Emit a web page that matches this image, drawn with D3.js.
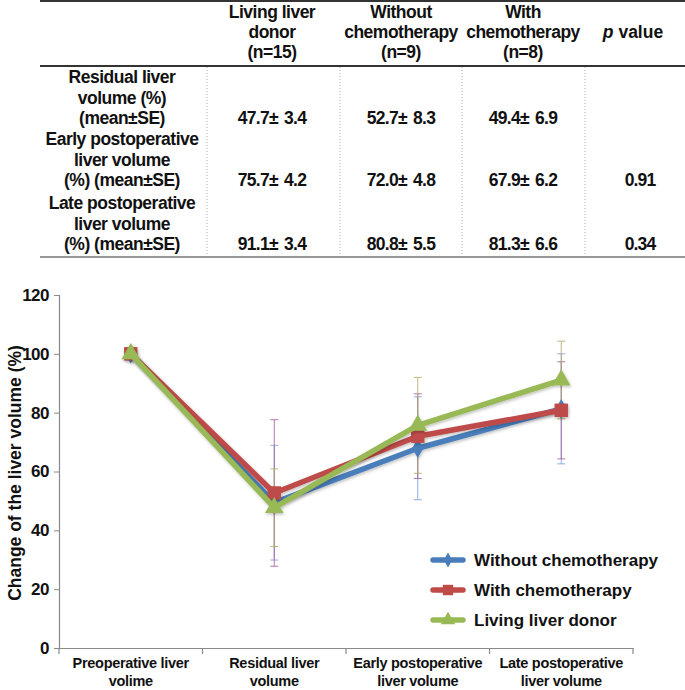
<!DOCTYPE html>
<html><head><meta charset="utf-8">
<script src="https://cdn.jsdelivr.net/npm/d3@7"></script>
<style>
body{margin:0;background:#fff;}
svg{font-family:"Liberation Sans",Arial,Helvetica,sans-serif;font-weight:bold;}
</style></head>
<body><svg id="c" width="685" height="690"></svg>
<script>
// ---- table data ----
const tableHeaders = [["Living liver","donor","(n=15)"],["Without","chemotherapy","(n=9)"],["With","chemotherapy","(n=8)"]];
const tableRowLabels = [["Residual liver","volume (%)","(mean±SE)"],["Early postoperative","liver volume","(%) (mean±SE)"],["Late postoperative","liver volume","(%) (mean±SE)"]];
const tableValues = [["47.7± 3.4","52.7± 8.3","49.4± 6.9"],["75.7± 4.2","72.0± 4.8","67.9± 6.2"],["91.1± 3.4","80.8± 5.5","81.3± 6.6"]];
const tablePValues = ["","0.91","0.34"];

// ---- chart data ----
const categories = [["Preoperative liver","volime"],["Residual liver","volume"],["Early postoperative","liver volume"],["Late postoperative","liver volume"]];
const seriesNames = ["Without chemotherapy","With chemotherapy","Living liver donor"];
const withoutChemo = [100, 49.4, 67.9, 81.3];
const withoutChemoErr = [0, 19.5, 17.5, 18.7];
const withChemo = [100, 52.7, 72.0, 80.8];
const withChemoErr = [0, 24.9, 14.4, 16.5];
const livingDonor = [100, 47.7, 75.7, 91.1];
const livingDonorErr = [0, 13.2, 16.3, 13.2];
const yTicks = [0,20,40,60,80,100,120];

const svg = d3.select("#c");

// ---- table ----
const colX = [122, 272, 401, 523, 633];
const t = svg.append("g").attr("font-size", 17.5).attr("fill","#111");
[[1,2],[66,2.2],[257,1.2]].forEach(([y,w])=>{
  t.append("line").attr("x1",40).attr("x2",685).attr("y1",y).attr("y2",y).attr("stroke","#333").attr("stroke-width",w);
});
[207,340,462,585].forEach(x=>{
  t.append("line").attr("x1",x).attr("x2",x).attr("y1",67).attr("y2",256).attr("stroke","#999").attr("stroke-width",0.8).attr("stroke-dasharray","1,2");
});
tableHeaders.forEach((lines,i)=>{
  lines.forEach((s,j)=>{
    t.append("text").attr("x",colX[i+1]).attr("y",18+j*20).attr("text-anchor","middle").attr("letter-spacing","-0.5").text(s);
  });
});
const pv = t.append("text").attr("x",colX[4]).attr("y",38).attr("text-anchor","middle");
pv.append("tspan").attr("font-style","italic").text("p");
pv.append("tspan").text(" value");
const rowBase = [124, 186, 250];
tableRowLabels.forEach((lines,i)=>{
  lines.forEach((s,j)=>{
    t.append("text").attr("x",colX[0]).attr("y",rowBase[i]-(2-j)*20.5).attr("text-anchor","middle").attr("letter-spacing","-0.5").text(s);
  });
  tableValues[i].forEach((v,k)=>{
    t.append("text").attr("x",colX[k+1]).attr("y",rowBase[i]).attr("text-anchor","middle").attr("letter-spacing","-0.7").attr("word-spacing","2").text(v);
  });
  t.append("text").attr("x",colX[4]+7).attr("y",rowBase[i]).attr("text-anchor","middle").attr("letter-spacing","-0.9").text(tablePValues[i]);
});

// ---- chart ----
const x0 = 59, x1 = 633, yTop = 295, yBot = 648;
const x = d3.scaleBand().domain(d3.range(categories.length)).range([x0,x1]);
const y = d3.scaleLinear().domain([0,120]).range([yBot,yTop]);
const cx = i => x(i)+x.bandwidth()/2;

const axisColor = "#8a8a8a";
const yAxis = svg.append("g").attr("transform",`translate(${x0},0)`)
  .call(d3.axisLeft(y).tickValues(yTicks).tickSize(5).tickPadding(5));
yAxis.select(".domain").attr("stroke",axisColor).attr("stroke-width",1.2);
yAxis.selectAll(".tick line").attr("stroke",axisColor);
yAxis.selectAll(".tick text").attr("font-size",17).attr("font-family","Liberation Sans, Arial").attr("font-weight","bold").attr("fill","#111").attr("letter-spacing","-0.5");

const xAxis = svg.append("g").attr("transform",`translate(0,${yBot})`)
  .call(d3.axisBottom(x).tickValues([]).tickSizeOuter(0));
xAxis.select(".domain").attr("stroke",axisColor).attr("stroke-width",1.2);
d3.range(categories.length+1).forEach(i=>{
  const xx = x0 + i*x.bandwidth();
  svg.append("line").attr("x1",xx).attr("x2",xx).attr("y1",yBot).attr("y2",yBot+6).attr("stroke",axisColor).attr("stroke-width",1.2);
});
categories.forEach((lines,i)=>{
  lines.forEach((s,j)=>{
    svg.append("text").attr("x",cx(i)).attr("y",668+j*18).attr("text-anchor","middle").attr("font-size",14.5).attr("letter-spacing","-0.3").attr("fill","#111").text(s);
  });
});

svg.append("text").attr("transform",`translate(21,473) rotate(-90)`).attr("text-anchor","middle")
  .attr("font-size",17.5).attr("fill","#111").text("Change of the liver volume (%)");

const series = [
  {name:seriesNames[0], v:withoutChemo, e:withoutChemoErr, color:"#4a7ebb", err:"#7f9fe0", sym:d3.symbolDiamond, size:110},
  {name:seriesNames[1], v:withChemo, e:withChemoErr, color:"#be4b48", err:"#a0609a", sym:d3.symbolSquare, size:180},
  {name:seriesNames[2], v:livingDonor, e:livingDonorErr, color:"#98b954", err:"#b4aa6a", sym:d3.symbolTriangle, size:150}
];

const defs = svg.append("defs");
const f = defs.append("filter").attr("id","sh").attr("x","-20%").attr("y","-20%").attr("width","140%").attr("height","140%");
f.append("feDropShadow").attr("dx",1).attr("dy",1.5).attr("stdDeviation",1.5).attr("flood-color","#000").attr("flood-opacity",0.25);

// error bars
series.forEach(s=>{
  const g = svg.append("g").attr("stroke",s.err).attr("stroke-width",1).attr("opacity",0.85);
  s.v.forEach((v,i)=>{
    if(!s.e[i]) return;
    const c = cx(i);
    g.append("line").attr("x1",c).attr("x2",c).attr("y1",y(v-s.e[i])).attr("y2",y(v+s.e[i]));
    [v-s.e[i], v+s.e[i]].forEach(b=>{
      g.append("line").attr("x1",c-4).attr("x2",c+4).attr("y1",y(b)).attr("y2",y(b));
    });
  });
});

const line = d3.line().x((d,i)=>cx(i)).y(d=>y(d));
series.forEach(s=>{
  const g = svg.append("g").attr("filter","url(#sh)");
  g.append("path").datum(s.v).attr("d",line).attr("fill","none").attr("stroke",s.color).attr("stroke-width",5.5).attr("stroke-linejoin","round");
  g.selectAll("path.m").data(s.v).enter().append("path").attr("class","m")
    .attr("d",d3.symbol().type(s.sym).size(s.size))
    .attr("transform",(d,i)=>`translate(${cx(i)},${y(d)})`).attr("fill",s.color);
});

// legend
const lg = svg.append("g");
series.forEach((s,i)=>{
  const yy = 560 + i*30;
  const g = lg.append("g");
  g.append("line").attr("x1",433).attr("x2",463).attr("y1",yy).attr("y2",yy).attr("stroke",s.color).attr("stroke-width",5.5).attr("stroke-linecap","round");
  g.append("path").attr("d",d3.symbol().type(s.sym).size(s.size*0.6)).attr("transform",`translate(448,${yy})`).attr("fill",s.color);
  lg.append("text").attr("x",474).attr("y",yy+6).attr("font-size",17).attr("fill","#111").text(s.name);
});
</script></body></html>
